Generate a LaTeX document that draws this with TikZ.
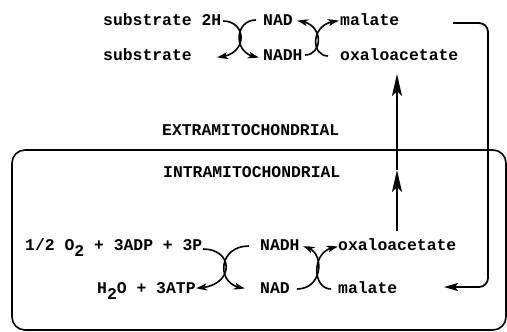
\documentclass[tikz,border=0pt]{standalone}
\usepackage{fontspec}
\setmonofont{Liberation Mono}
\usetikzlibrary{arrows.meta,bending}
\newcommand{\lowtwo}{\raisebox{-6pt}{2}}
\begin{document}
\begin{tikzpicture}[x=1pt,y=-1pt,
  txt/.style={font=\fontsize{16.4}{18}\selectfont\ttfamily\bfseries, inner sep=0pt, anchor=base west},
  xarc/.style={line width=1.6pt, -{Stealth[length=11pt,width=7pt,inset=3pt,bend]}},
  bigup/.style={line width=1.8pt, -{Stealth[length=22pt,width=10pt,inset=5pt]}},
  loop/.style={line width=1.8pt, rounded corners=9pt, -{Stealth[length=14pt,width=8pt,inset=3pt]}},
  boxline/.style={line width=1.6pt, rounded corners=13pt}]
\useasboundingbox (0,0) rectangle (507,332);

% upper (extramitochondrial) texts
\node[txt] (sub2H) at (103,26) {substrate 2H};
\node[txt] (sub)   at (103,60) {substrate};
\node[txt] (nadT)  at (263,26) {NAD};
\node[txt] (nadhT) at (263,60) {NADH};
\node[txt] (malT)  at (340,26) {malate};
\node[txt] (oxT)   at (340,60) {oxaloacetate};

\node[txt] (extra) at (162,135) {EXTRAMITOCHONDRIAL};
\node[txt] (intra) at (163,177) {INTRAMITOCHONDRIAL};

% lower (intramitochondrial) texts
\node[txt] (o2)    at (25,250) {1/2 O\lowtwo{} + 3ADP + 3P};
\node[txt] (h2o)   at (97,293) {H\lowtwo{}O + 3ATP};
\node[txt] (nadhB) at (260,250) {NADH};
\node[txt] (nadB)  at (260,293) {NAD};
\node[txt] (oxB)   at (338,250) {oxaloacetate};
\node[txt] (malB)  at (338,293) {malate};

% membrane box
\draw[boxline] (12,150) rectangle (506,330);

% cross 1
\coordinate (c1a) at (223,21);  \coordinate (c1b) at (217,57);
\coordinate (c1c) at (256,20);  \coordinate (c1d) at (259,57);
\draw[xarc] (c1a) .. controls (248,21) and (248,57) .. (c1b);
\draw[xarc] (c1c) .. controls (233,20) and (233,57) .. (c1d);

% cross 2
\coordinate (c2a) at (305,55);  \coordinate (c2b) at (297,21);
\coordinate (c2c) at (328,56);  \coordinate (c2d) at (339,21);
\draw[xarc] (c2a) .. controls (324,55) and (324,21) .. (c2b);
\draw[xarc] (c2c) .. controls (310,56) and (310,21) .. (c2d);

% cross 3
\coordinate (c3a) at (203,249); \coordinate (c3b) at (196,288);
\coordinate (c3c) at (249,246); \coordinate (c3d) at (245,288);
\draw[xarc] (c3a) .. controls (235,249) and (235,288) .. (c3b);
\draw[xarc] (c3c) .. controls (216,246) and (216,288) .. (c3d);

% cross 4
\coordinate (c4a) at (297,289); \coordinate (c4b) at (303,247);
\coordinate (c4c) at (331,289); \coordinate (c4d) at (338,247);
\draw[xarc] (c4a) .. controls (325,289) and (325,247) .. (c4b);
\draw[xarc] (c4c) .. controls (311,289) and (311,247) .. (c4d);

% oxaloacetate transport (up)
\coordinate (upA) at (397,231);
\coordinate (upM) at (397,170);
\coordinate (upB) at (397,74);
\draw[bigup] (upA) -- (upM);
\draw[bigup] (upM) -- (upB);

% malate transport (loop down)
\coordinate (lpA) at (453,23);
\coordinate (lpC) at (488,287);
\coordinate (lpB) at (444,287);
\draw[loop] (lpA) -| (lpC) -- (lpB);
\end{tikzpicture}
\end{document}
